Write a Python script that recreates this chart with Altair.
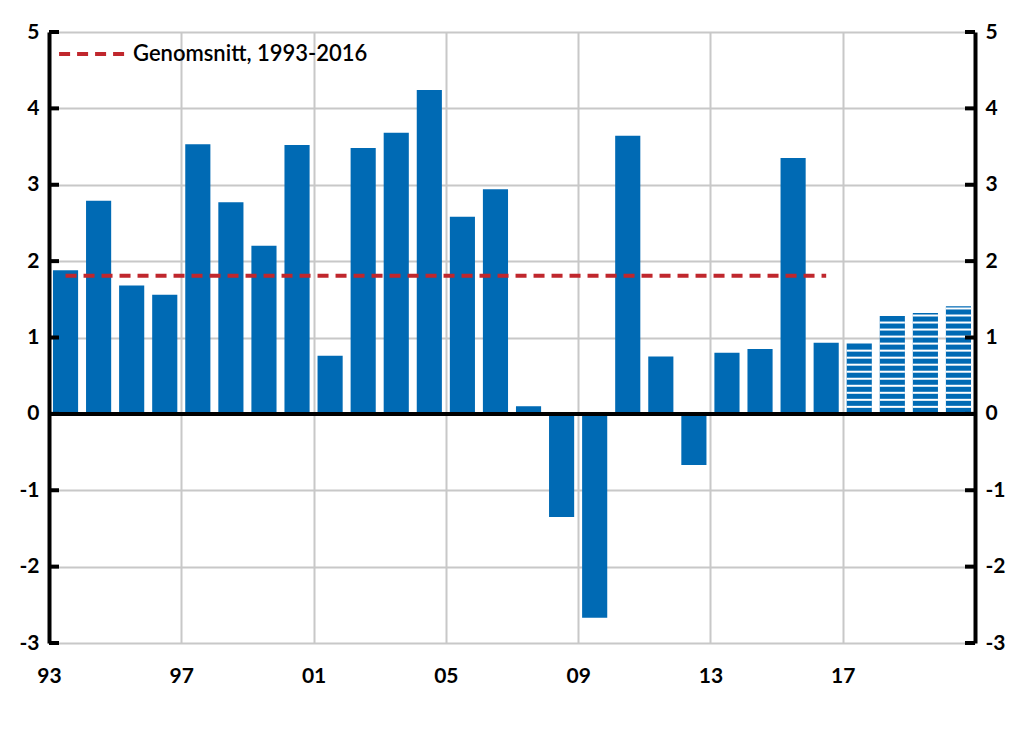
import altair as alt
import pandas as pd

years = list(range(1993, 2021))
values = [1.88, 2.79, 1.68, 1.56, 3.53, 2.77, 2.20, 3.52, 0.76, 3.48,
          3.68, 4.24, 2.58, 2.94, 0.10, -1.35, -2.67, 3.64, 0.75, -0.67,
          0.80, 0.85, 3.35, 0.93, 0.92, 1.28, 1.32, 1.41]
forecast_from = 2017
average_value = 1.81
average_label = "Genomsnitt, 1993-2016"
avg_start, avg_end = 1993, 2016
x_ticks = [1993, 1997, 2001, 2005, 2009, 2013, 2017]
y_ticks = [-3, -2, -1, 0, 1, 2, 3, 4, 5]

BLUE = "#006AB4"
RED = "#C0272D"
GRID = "#C8C8C8"
FONT = "Lato"

W, H = 926, 611

df = pd.DataFrame({"year": years, "value": values})
df["x0"] = df["year"] + 0.12
df["x1"] = df["year"] + 0.88
df["zero"] = 0.0

# stripes for forecast bars (white gaps)
step = 0.092
rows = []
for y, v in zip(years, values):
    if y >= forecast_from:
        k = 1
        while k * step < v - 0.02:
            rows.append({"x0": y + 0.12, "x1": y + 0.88, "s": k * step})
            k += 1
stripes = pd.DataFrame(rows)

avg_df = pd.DataFrame({"a": [avg_start + 0.5], "b": [avg_end + 0.5],
                       "v": [average_value], "label": [average_label]})
tick_df = pd.DataFrame({"t": y_ticks})

xscale = alt.Scale(domain=[1993, 2021], nice=False, zero=False)
yscale = alt.Scale(domain=[-3, 5], nice=False)

xaxis = alt.Axis(values=x_ticks, labelExpr="substring(toString(datum.value), 2)",
                 grid=True, gridColor=GRID, gridWidth=2, domain=False, ticks=False,
                 labelFlush=False,
                 labelFont=FONT, labelFontSize=21, labelFontWeight="bold",
                 labelColor="black", labelPadding=22, title=None)


def yaxis(orient, grid):
    return alt.Axis(values=y_ticks, orient=orient, grid=grid, gridColor=GRID,
                    gridWidth=2, domainColor="black", domainWidth=4, ticks=False,
                    labelExpr="toString(datum.value)",
                    labelFont=FONT, labelFontSize=21, labelFontWeight="bold",
                    labelColor="black", labelPadding=10, title=None)


bars = alt.Chart(df).mark_rect(color=BLUE).encode(
    x=alt.X("x0:Q", scale=xscale, axis=xaxis),
    x2="x1:Q",
    y=alt.Y("value:Q", scale=yscale, axis=yaxis("left", True)),
    y2="zero:Q",
)

stripe_layer = alt.Chart(stripes).mark_rule(color="white", strokeWidth=2).encode(
    x=alt.X("x0:Q", scale=xscale), x2="x1:Q",
    y=alt.Y("s:Q", scale=yscale, axis=None)
)

zero_line = alt.Chart(tick_df).transform_filter("datum.t == 0").mark_rule(
    color="black", strokeWidth=4).encode(
    x=alt.value(0), x2=alt.value(W), y=alt.Y("t:Q", scale=yscale, axis=None)
)

left_ticks = alt.Chart(tick_df).mark_rule(color="black", strokeWidth=4).encode(
    x=alt.value(0), x2=alt.value(10), y=alt.Y("t:Q", scale=yscale, axis=None)
)
right_ticks = alt.Chart(tick_df).mark_rule(color="black", strokeWidth=4).encode(
    x=alt.value(W - 10), x2=alt.value(W),
    y=alt.Y("t:Q", scale=yscale, axis=yaxis("right", False))
)

avg_line = alt.Chart(avg_df).mark_rule(strokeWidth=4, strokeDash=[11, 7]).encode(
    x=alt.X("a:Q", scale=xscale), x2="b:Q",
    y=alt.Y("v:Q", scale=yscale, axis=None),
    color=alt.Color("label:N", scale=alt.Scale(range=[RED]),
                    legend=alt.Legend(orient="none", legendX=8, legendY=-14, title=None,
                                      symbolType="stroke", symbolSize=4600,
                                      symbolStrokeWidth=4, symbolDash=[11, 7],
                                      labelFont=FONT, labelFontSize=22,
                                      labelColor="black", labelFontWeight=600,
                                      labelLimit=400)),
)

chart = alt.layer(bars, stripe_layer, zero_line, left_ticks, right_ticks, avg_line).resolve_axis(
    y="independent"
).properties(
    width=W, height=H,
    autosize=alt.AutoSizeParams(type="none"),
    padding={"left": 41, "top": 24, "right": 38, "bottom": 60},
).configure_view(stroke=None)

chart.save("out.html", embed_options={"renderer": "svg", "actions": False})
